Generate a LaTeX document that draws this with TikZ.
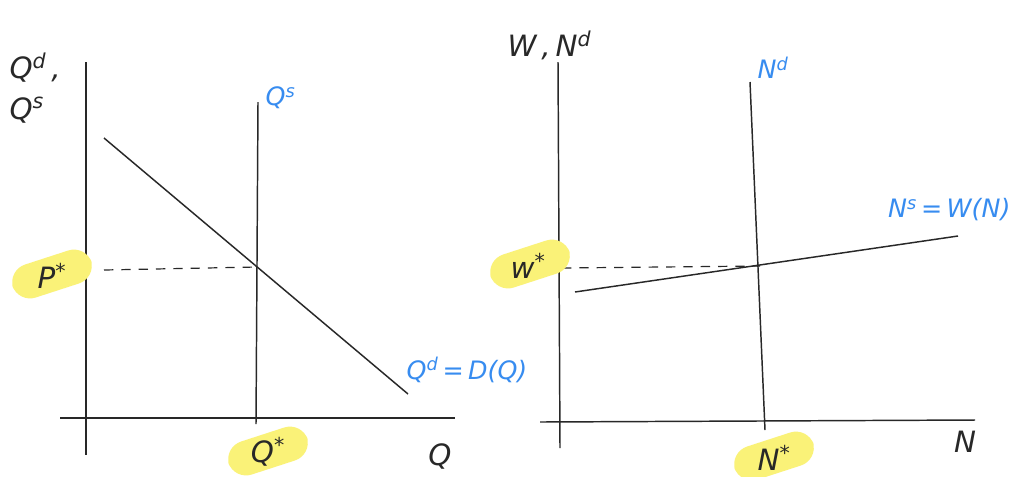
\documentclass[tikz,border=0pt]{standalone}
\usepackage{fontspec}
\setmainfont{DejaVu Sans}
\definecolor{ink}{RGB}{40,40,40}
\definecolor{pen}{RGB}{55,140,240}
\definecolor{hl}{RGB}{250,242,120}
\begin{document}
\begin{tikzpicture}[x=0.75pt,y=-0.75pt,
  axis/.style={draw=ink,line width=1.1pt},
  curve/.style={draw=ink,line width=1.1pt},
  guide/.style={draw=ink,line width=0.9pt,dash pattern=on 7pt off 6pt},
  lbl/.style={text=ink,font=\fontsize{22}{24}\selectfont\itshape,inner sep=1pt},
  blbl/.style={text=pen,font=\fontsize{19}{22}\selectfont\itshape,inner sep=1pt},
  hlbox/.style={fill=hl,rounded corners=14pt,minimum width=62pt,minimum height=26pt,rotate=18}]
\useasboundingbox (0,0) rectangle (1016,476);
\fill[white] (0,0) rectangle (1016,476);
% ---------- left plot ----------
\coordinate (ly0) at (86,62);  \coordinate (ly1) at (86,455);
\coordinate (lx0) at (60,418); \coordinate (lx1) at (455,418);
\coordinate (qs0) at (258,102); \coordinate (qs1) at (256,424);
\coordinate (qd0) at (104,138); \coordinate (qd1) at (408,394);
\coordinate (pe) at (104,270); \coordinate (eq1) at (257,267);
\draw[axis] (ly0) -- (ly1);
\draw[axis] (lx0) -- (lx1);
\draw[curve] (qs0) -- (qs1);
\draw[curve] (qd0) -- (qd1);
\draw[guide] (pe) -- (eq1);
\node[lbl,anchor=west] (lq) at (8,68) {Q\textsuperscript{d}\,,};
\node[lbl,anchor=west] (lqs) at (8,110) {Q\textsuperscript{s}};
\node[blbl,anchor=west] (bqs) at (264,98) {Q\textsuperscript{s}};
\node[blbl,anchor=west] (bqd) at (405,370) {Q\textsuperscript{d}\,=\,D(Q)};
\node[hlbox] (hp) at (52,274) {};
\node[lbl] (pstar) at (52,276) {P\textsuperscript{*}};
\node[hlbox] (hq) at (268,451) {};
\node[lbl] (qstar) at (268,452) {Q\textsuperscript{*}};
\node[lbl] (lqx) at (440,456) {Q};
% ---------- right plot ----------
\coordinate (ry0) at (558,62);  \coordinate (ry1) at (560,448);
\coordinate (rx0) at (540,422); \coordinate (rx1) at (975,420);
\coordinate (nd0) at (750,82); \coordinate (nd1) at (765,430);
\coordinate (ns0) at (575,292); \coordinate (ns1) at (958,236);
\coordinate (we) at (562,268); \coordinate (eq2) at (760,266);
\draw[axis] (ry0) -- (ry1);
\draw[axis] (rx0) -- (rx1);
\draw[curve] (nd0) -- (nd1);
\draw[curve] (ns0) -- (ns1);
\draw[guide] (we) -- (eq2);
\node[lbl,anchor=west] (rw) at (506,45) {W\,,\,N\textsuperscript{d}};
\node[blbl,anchor=west] (bnd) at (756,68) {N\textsuperscript{d}};
\node[blbl,anchor=east] (bns) at (1012,210) {N\textsuperscript{s}\,=\,W(N)};
\node[hlbox] (hw) at (530,264) {};
\node[lbl] (wstar) at (528,266) {w\textsuperscript{*}};
\node[hlbox] (hn) at (774,456) {};
\node[lbl] (nstar) at (774,458) {N\textsuperscript{*}};
\node[lbl] (rnx) at (965,442) {N};
\end{tikzpicture}
\end{document}
